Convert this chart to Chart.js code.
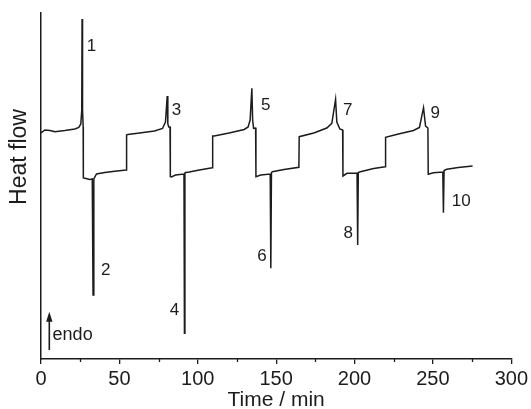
<!DOCTYPE html>
<html><head><meta charset="utf-8">
<script src="https://cdn.jsdelivr.net/npm/chart.js@4"></script>
<style>html,body{margin:0;padding:0;background:#fff;overflow:hidden}</style>
</head><body>
<canvas id="c" width="531" height="409"></canvas>
<script>
// Heat-flow trace (time in min, heat flow in arbitrary units)
const timeMin = [0,2.5,5.7,8.9,15.2,21.6,24.1,25.4,26.0,26.2,26.5,26.9,27.0,28.0,31.1,32.7,33.2,33.7,35.4,40.7,47.0,54.4,54.6,55.3,62.9,72.4,77.5,79.4,80.5,80.9,81.5,82.3,82.5,83.2,85.8,91.2,91.5,91.8,92.3,94.6,101.0,109.3,109.5,110.5,120.0,129.6,132.1,133.4,134.5,135.0,135.6,136.9,137.1,140.2,146.2,146.6,147.0,147.6,155.0,164.5,164.7,174.0,182.3,185.5,187.9,188.7,190.6,192.4,192.6,195.2,201.6,202.0,202.4,203.7,212.2,219.6,219.8,228.0,237.6,241.4,244.0,245.3,246.8,247.0,250.3,256.3,256.7,257.1,258.8,266.2,275.3];
const heatFlow = [226,229,228.5,227.3,228.5,230,231.5,235,249,340,249,232,181,180.7,179.5,180,64,180,185,186.5,187.7,189,224,224.5,226,228,230.5,237,263,235,232,232,182.3,182,184,185,25.7,186,186.5,187,189,191.3,223,223,226,229.5,232,239,270.7,239,230.7,231,182.3,184,185,90.7,186.5,187.3,189.5,191.7,222.3,226,231,235.7,259.7,237,230,229,183,185.7,186,114,186.5,187.3,190.5,192.3,221.7,225,228.5,231.5,251.3,233,231,184.7,186.3,187,146.3,188.5,189.7,191.5,193];
// Peak labels
const peakNames = ['1','2','3','4','5','6','7','8','9','10'];
const peakLabelTime = [32.2,41.3,86.4,85.1,143.4,140.9,195.7,195.9,251.4,268.1];
const peakLabelFlow = [312.3,88.3,249,49,254,102.3,249,125.7,245.7,157.3];
const xTicks = [0,50,100,150,200,250,300];
const xTitle = 'Time / min';
const yTitle = 'Heat flow';
const endoText = 'endo';

const FONT = 'Arial, "Liberation Sans", Helvetica, sans-serif';
const INK = '#1c1c1c';

const annot = {
  id: 'annot',
  afterDraw(chart) {
    const {ctx, scales: {x, y}} = chart;
    ctx.save();
    ctx.fillStyle = INK;
    ctx.strokeStyle = INK;
    // minor ticks
    ctx.lineWidth = 1.3;
    for (let t = 25; t < 300; t += 50) {
      const px = Math.round(x.getPixelForValue(t)) + 0.5;
      ctx.beginPath(); ctx.moveTo(px, y.bottom); ctx.lineTo(px, y.bottom + 3); ctx.stroke();
    }
    // peak labels
    ctx.font = '17px ' + FONT;
    ctx.textAlign = 'center';
    ctx.textBaseline = 'middle';
    peakNames.forEach((n, i) => {
      ctx.fillText(n, x.getPixelForValue(peakLabelTime[i]), y.getPixelForValue(peakLabelFlow[i]));
    });
    // endo arrow
    const ax = x.getPixelForValue(5.3);
    const y0 = y.getPixelForValue(9), y1 = y.getPixelForValue(47.3);
    ctx.lineWidth = 1.6;
    ctx.beginPath(); ctx.moveTo(ax, y0); ctx.lineTo(ax, y1 + 8); ctx.stroke();
    ctx.beginPath(); ctx.moveTo(ax, y1); ctx.lineTo(ax - 3.2, y1 + 10); ctx.lineTo(ax + 3.2, y1 + 10); ctx.closePath(); ctx.fill();
    ctx.font = '18px ' + FONT;
    ctx.textAlign = 'left';
    ctx.fillText(endoText, x.getPixelForValue(7.4), y.getPixelForValue(24));
    // y title
    ctx.font = '23px ' + FONT;
    ctx.translate(20, 157);
    ctx.rotate(-Math.PI / 2);
    ctx.textAlign = 'center';
    ctx.fillText(yTitle, 0, 0);
    ctx.restore();
  }
};

new Chart(document.getElementById('c'), {
  type: 'line',
  data: {
    datasets: [{
      data: timeMin.map((t, i) => ({x: t, y: heatFlow[i]})),
      borderColor: INK,
      borderWidth: 1.5,
      pointRadius: 0,
      fill: false,
      tension: 0
    }]
  },
  options: {
    responsive: false,
    animation: false,
    layout: {padding: {top: 13, right: 18, left: 0, bottom: 0}},
    plugins: {legend: {display: false}, tooltip: {enabled: false}},
    scales: {
      x: {
        type: 'linear', min: 0, max: 300,
        afterBuildTicks: s => { s.ticks = xTicks.map(v => ({value: v})); },
        afterFit: s => { s.height = 50; },
        ticks: {color: INK, font: {family: FONT, size: 20}, padding: 3, maxRotation: 0, autoSkip: false},
        grid: {drawOnChartArea: false, drawTicks: true, tickLength: 5, color: INK, lineWidth: 1.3},
        border: {display: true, color: INK, width: 1.5},
        title: {display: true, text: xTitle, color: INK, font: {family: FONT, size: 21, lineHeight: 1}, padding: {top: 0, bottom: -2}}
      },
      y: {
        type: 'linear', min: 0, max: 346,
        afterFit: s => { s.width = 41; },
        ticks: {display: false},
        grid: {display: false, drawTicks: false},
        border: {display: true, color: INK, width: 1.5}
      }
    }
  },
  plugins: [annot]
});
</script>
</body></html>
